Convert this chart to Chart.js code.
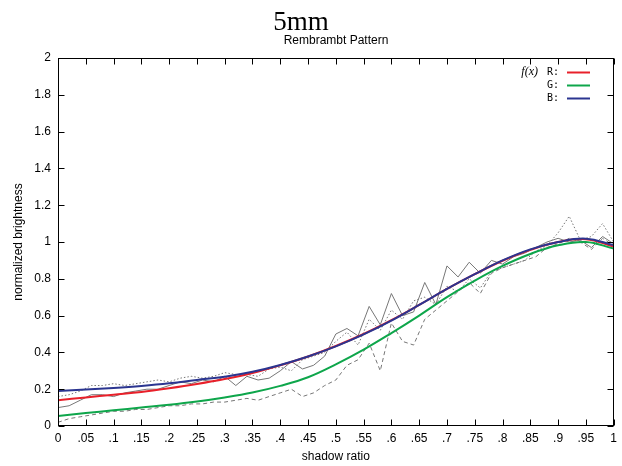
<!DOCTYPE html>
<html>
<head>
<meta charset="utf-8">
<script src="https://cdn.jsdelivr.net/npm/chart.js@4/dist/chart.umd.min.js"></script>
<style>
html, body { margin: 0; padding: 0; background: #fff; }
</style>
</head>
<body>
<canvas id="myChart" width="622" height="466"></canvas>
<script>
// measured samples (grey)
const sampleX = [0, 0.02, 0.04, 0.06, 0.08, 0.1, 0.12, 0.14, 0.16, 0.18, 0.2, 0.22, 0.24, 0.26, 0.28, 0.3,
    0.32, 0.34, 0.36, 0.38, 0.4, 0.42, 0.44, 0.46, 0.48, 0.5, 0.52, 0.54, 0.56, 0.58, 0.6, 0.62, 0.64,
    0.66, 0.68, 0.7, 0.72, 0.74, 0.76, 0.78, 0.8, 0.82, 0.84, 0.86, 0.88, 0.9, 0.92, 0.94, 0.96, 0.98, 1];
const sampleR = [0.10, 0.11, 0.14, 0.17, 0.17, 0.16, 0.18, 0.19, 0.20, 0.20, 0.22, 0.24, 0.23, 0.25, 0.24, 0.27,
    0.22, 0.27, 0.25, 0.26, 0.30, 0.35, 0.31, 0.33, 0.38, 0.50, 0.53, 0.49, 0.65, 0.55, 0.72, 0.60, 0.62,
    0.78, 0.66, 0.87, 0.81, 0.89, 0.83, 0.90, 0.88, 0.92, 0.94, 0.97, 1.00, 1.02, 1.00, 1.01, 0.97, 1.03, 0.99];
const sampleG = [0.02, 0.04, 0.05, 0.06, 0.07, 0.08, 0.08, 0.09, 0.09, 0.10, 0.11, 0.11, 0.12, 0.12, 0.13, 0.13,
    0.14, 0.15, 0.14, 0.16, 0.18, 0.20, 0.16, 0.18, 0.22, 0.25, 0.33, 0.36, 0.45, 0.30, 0.56, 0.46, 0.44,
    0.58, 0.63, 0.68, 0.73, 0.78, 0.72, 0.83, 0.86, 0.88, 0.90, 0.92, 0.97, 0.99, 1.02, 1.00, 0.96, 1.02, 0.98];
const sampleB = [0.16, 0.17, 0.19, 0.22, 0.22, 0.23, 0.22, 0.23, 0.24, 0.25, 0.24, 0.26, 0.27, 0.26, 0.27, 0.29,
    0.28, 0.28, 0.27, 0.31, 0.32, 0.30, 0.36, 0.38, 0.40, 0.46, 0.51, 0.44, 0.58, 0.52, 0.63, 0.58, 0.68,
    0.70, 0.66, 0.76, 0.73, 0.80, 0.75, 0.84, 0.86, 0.88, 0.90, 0.95, 0.98, 1.05, 1.14, 1.01, 1.03, 1.10, 1.00];

// fitted curves f(x)
const fitX = [0, 0.05, 0.1, 0.15, 0.2, 0.25, 0.3, 0.35, 0.4, 0.45, 0.5, 0.55, 0.6, 0.65, 0.7, 0.75, 0.8, 0.85, 0.9, 0.95, 1];
const fitR = [0.14, 0.155, 0.17, 0.185, 0.205, 0.228, 0.255, 0.288, 0.33, 0.378, 0.435, 0.50, 0.575, 0.658, 0.745, 0.825, 0.898, 0.957, 1.0, 1.015, 0.975];
const fitG = [0.055, 0.07, 0.085, 0.1, 0.115, 0.133, 0.155, 0.182, 0.218, 0.265, 0.335, 0.415, 0.505, 0.60, 0.70, 0.79, 0.87, 0.935, 0.982, 1.0, 0.965];
const fitB = [0.19, 0.198, 0.207, 0.218, 0.232, 0.25, 0.268, 0.295, 0.332, 0.378, 0.433, 0.498, 0.573, 0.658, 0.745, 0.825, 0.9, 0.96, 1.0, 1.018, 0.983];

const xTickLabels = ['0', '.05', '.1', '.15', '.2', '.25', '.3', '.35', '.4', '.45', '.5',
    '.55', '.6', '.65', '.7', '.75', '.8', '.85', '.9', '.95', '1'];
const yTickLabels = ['0', '0.2', '0.4', '0.6', '0.8', '1', '1.2', '1.4', '1.6', '1.8', '2'];

function pts(xs, ys) {
    return xs.map((x, i) => ({ x: x, y: ys[i] }));
}

const RED = '#e8202a', GREEN = '#0ea64b', BLUE = '#2b3590';

// box frame + gnuplot style inward ticks
const frame = {
    id: 'frame',
    afterDraw(chart) {
        const { ctx, chartArea: a, scales } = chart;
        const L = Math.round(a.left) + 0.5, R = Math.round(a.right) - 0.5;
        const T = Math.round(a.top) + 0.5, B = Math.round(a.bottom) - 0.5;
        ctx.save();
        ctx.strokeStyle = '#000';
        ctx.lineWidth = 1;
        ctx.beginPath();
        scales.x.ticks.forEach(t => {
            const px = Math.round(scales.x.getPixelForValue(t.value)) + 0.5;
            ctx.moveTo(px, B); ctx.lineTo(px, B - 6);
            ctx.moveTo(px, T); ctx.lineTo(px, T + 6);
        });
        scales.y.ticks.forEach(t => {
            const py = Math.round(scales.y.getPixelForValue(t.value)) + 0.5;
            ctx.moveTo(L, py); ctx.lineTo(L + 6, py);
            ctx.moveTo(R, py); ctx.lineTo(R - 6, py);
        });
        ctx.stroke();
        ctx.strokeRect(L, T, R - L, B - T);

        // titles
        ctx.fillStyle = '#000';
        ctx.textAlign = 'center';
        ctx.textBaseline = 'alphabetic';
        ctx.font = '27px "Liberation Serif", serif';
        ctx.fillText('5mm', 301, 30);
        ctx.font = '12px "Liberation Sans", Arial, sans-serif';
        ctx.fillText('Rembrambt Pattern', 336, 44);

        // legend
        ctx.font = 'italic 12px "Liberation Serif", serif';
        ctx.textAlign = 'right';
        ctx.textBaseline = 'middle';
        ctx.fillText('f(x)', 538, 72);
        ctx.font = '10px "DejaVu Sans Mono", monospace';
        ctx.textAlign = 'left';
        const items = [['R:', RED, 72], ['G:', GREEN, 85], ['B:', BLUE, 98]];
        items.forEach(it => {
            ctx.fillStyle = '#000';
            ctx.fillText(it[0], 547, it[2]);
            ctx.strokeStyle = it[1];
            ctx.lineWidth = 2;
            ctx.beginPath();
            ctx.moveTo(567, it[2] + 0.5);
            ctx.lineTo(590, it[2] + 0.5);
            ctx.stroke();
        });
        ctx.restore();
    }
};

const ctx = document.getElementById('myChart').getContext('2d');
const chart = new Chart(ctx, {
    type: 'line',
    data: {
        datasets: [
            { data: pts(sampleX, sampleR), borderColor: '#777', borderWidth: 1, order: 10 },
            { data: pts(sampleX, sampleB), borderColor: '#777', borderWidth: 1, borderDash: [1.5, 2], order: 9 },
            { data: pts(sampleX, sampleG), borderColor: '#777', borderWidth: 1, borderDash: [4, 3], order: 8 },
            { data: pts(fitX, fitR), borderColor: RED, borderWidth: 2, tension: 0.4, order: 3 },
            { data: pts(fitX, fitG), borderColor: GREEN, borderWidth: 2, tension: 0.4, order: 2 },
            { data: pts(fitX, fitB), borderColor: BLUE, borderWidth: 2, tension: 0.4, order: 1 }
        ].map(ds => ({ ...ds, pointRadius: 0, fill: false }))
    },
    options: {
        responsive: false,
        animation: false,
        layout: { padding: { top: 58, right: 6, left: 0, bottom: 0 } },
        scales: {
            x: {
                type: 'linear',
                position: 'bottom',
                min: 0,
                max: 1,
                grid: { display: false, drawTicks: false },
                border: { display: false },
                afterFit: s => { s.height = 40; },
                ticks: {
                    stepSize: 0.05,
                    autoSkip: false,
                    maxRotation: 0,
                    padding: 5,
                    color: '#000',
                    font: { family: '"Liberation Sans", Arial, sans-serif', size: 12 },
                    callback: v => xTickLabels[Math.round(v * 20)]
                },
                title: {
                    display: true,
                    text: 'shadow ratio',
                    color: '#000',
                    padding: { top: 0, bottom: 2 },
                    font: { family: '"Liberation Sans", Arial, sans-serif', size: 12 }
                }
            },
            y: {
                min: 0,
                max: 2,
                grid: { display: false, drawTicks: false },
                border: { display: false },
                afterFit: s => { s.width = 58; },
                ticks: {
                    stepSize: 0.2,
                    padding: 7,
                    color: '#000',
                    font: { family: '"Liberation Sans", Arial, sans-serif', size: 12 },
                    callback: v => yTickLabels[Math.round(v * 5)]
                },
                title: {
                    display: true,
                    text: 'normalized brightness',
                    color: '#000',
                    padding: { top: 11, bottom: 0 },
                    font: { family: '"Liberation Sans", Arial, sans-serif', size: 12 }
                }
            }
        },
        plugins: {
            legend: { display: false },
            tooltip: { enabled: false }
        }
    },
    plugins: [frame]
});
</script>
</body>
</html>
